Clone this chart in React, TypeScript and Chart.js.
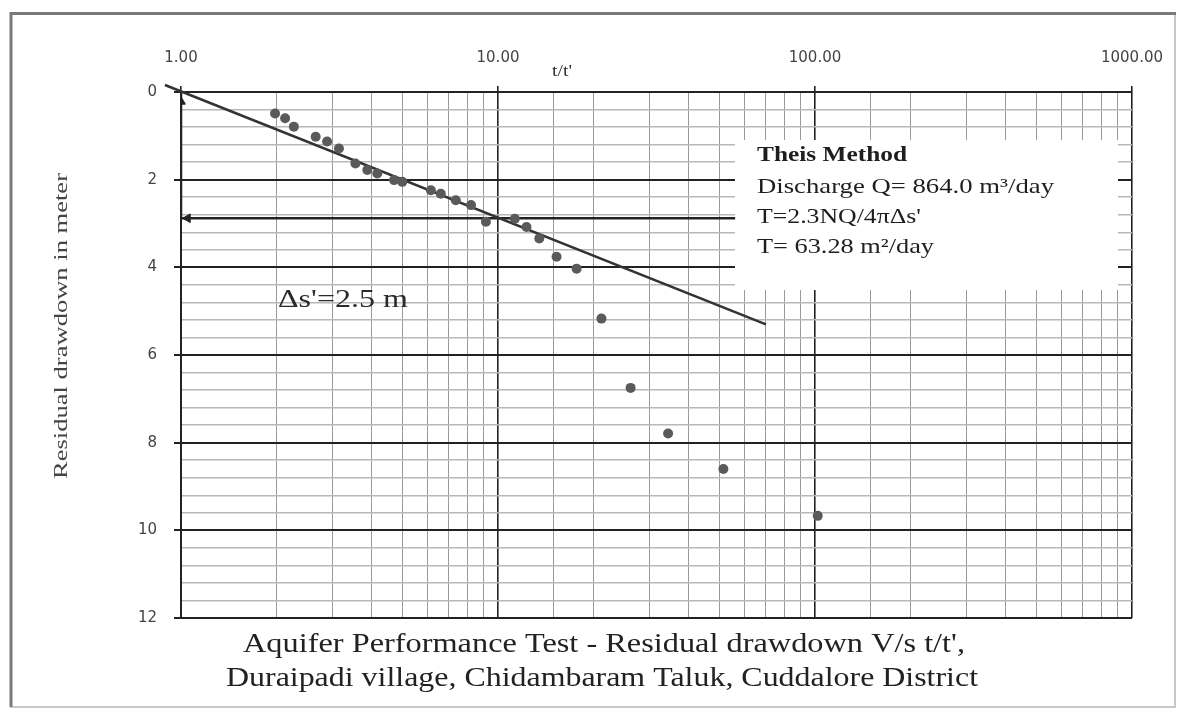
import React, { useEffect, useRef } from "react";
import { Chart, registerables } from "chart.js";

Chart.register(...registerables);

// ---- Data ----
const tRatio = [1.98, 2.13, 2.27, 2.66, 2.89, 3.15, 3.55, 3.87, 4.16, 4.7, 4.99, 6.14, 6.6, 7.36, 8.22, 9.16, 11.3, 12.3, 13.5, 15.3, 17.7, 21.2, 26.2, 34.4, 51.4, 102];
const residualDrawdown = [0.49, 0.6, 0.79, 1.02, 1.13, 1.29, 1.63, 1.78, 1.86, 2.01, 2.05, 2.24, 2.32, 2.47, 2.58, 2.96, 2.89, 3.08, 3.34, 3.76, 4.03, 5.17, 6.75, 7.79, 8.6, 9.67];

const fitLineT = [0.89, 70];
const fitLineS = [-0.16, 5.3];

const deltaLineT = [1.0, 1.0, 56];
const deltaLineS = [0.0, 2.88, 2.88];

const arrowHeadT = [1.0, 1.05];
const arrowHeadS = [0.22, 2.88];
const arrowHeadRotation = [0, 270];

const xTickValues = [1, 10, 100, 1000];
const yMin = 0;
const yMax = 12;
const yStep = 0.4;
const yLabelStep = 2;

const xAxisTitle = "t/t'";
const yAxisTitle = "Residual drawdown in meter";
const deltaLabel = "Δs'=2.5 m";
const boxLines = ["Theis Method", "Discharge Q= 864.0 m³/day", "T=2.3NQ/4πΔs'", "T= 63.28 m²/day"];
const titleLines = ["Aquifer Performance Test - Residual drawdown V/s t/t',", "Duraipadi village, Chidambaram Taluk, Cuddalore District"];

function fitText(ctx: CanvasRenderingContext2D, text: string, x: number, y: number, w: number, font: string, color: string, rot = 0, align: CanvasTextAlign = "center") {
  ctx.save();
  ctx.font = font;
  ctx.fillStyle = color;
  ctx.textBaseline = "middle";
  ctx.textAlign = align;
  const m = ctx.measureText(text).width;
  const sx = m > 0 ? w / m : 1;
  ctx.translate(x, y);
  ctx.rotate(rot);
  ctx.scale(sx, 1);
  ctx.fillText(text, 0, 0);
  ctx.restore();
}

const isMajorX = (v: number) => {
  const l = Math.log10(v);
  return Math.abs(l - Math.round(l)) < 1e-9;
};
const isMajorY = (v: number) => Math.abs(v / yLabelStep - Math.round(v / yLabelStep)) < 1e-6;

const decorPlugin = {
  id: "decor",
  beforeDatasetsDraw(chart: any) {
    const ctx = chart.ctx as CanvasRenderingContext2D;
    const a = chart.chartArea;
    ctx.save();
    ctx.fillStyle = "#ffffff";
    ctx.fillRect(a.left + 554, a.top + 48, 383, 150);
    ctx.restore();
  },
  afterDraw(chart: any) {
    const ctx = chart.ctx as CanvasRenderingContext2D;
    const a = chart.chartArea;
    const serif = "'Liberation Serif', 'Times New Roman', serif";
    // outer frame
    ctx.save();
    ctx.strokeStyle = "#c8c8c8";
    ctx.lineWidth = 2;
    ctx.beginPath();
    ctx.moveTo(1175, 13);
    ctx.lineTo(1175, 707);
    ctx.lineTo(10, 707);
    ctx.stroke();
    ctx.strokeStyle = "#7a7a7a";
    ctx.lineWidth = 3;
    ctx.beginPath();
    ctx.moveTo(11, 707);
    ctx.lineTo(11, 13.5);
    ctx.lineTo(1176, 13.5);
    ctx.stroke();
    ctx.restore();

    // axis titles
    fitText(ctx, xAxisTitle, a.left + 381, a.top - 20, 20, `17px ${serif}`, "#333");
    fitText(ctx, yAxisTitle, 62, 326, 306, `19px ${serif}`, "#444", -Math.PI / 2);

    // delta label
    fitText(ctx, deltaLabel, a.left + 162, a.top + 208, 130, `26px ${serif}`, "#2a2a2a");

    // text box lines
    const bx = a.left + 576;
    const widths = [150, 297, 164, 177];
    const ys = [156, 187, 217, 247];
    boxLines.forEach((t, i) => {
      fitText(ctx, t, bx, ys[i], widths[i], `${i === 0 ? "bold " : ""}21px ${serif}`, "#1e1e1e", 0, "left");
    });

    // bottom title
    fitText(ctx, titleLines[0], 604, 645, 722, `27px ${serif}`, "#222");
    fitText(ctx, titleLines[1], 602, 679, 752, `27px ${serif}`, "#222");
  },
};

export default function App() {
  const ref = useRef<HTMLCanvasElement | null>(null);

  useEffect(() => {
    if (!ref.current) return;
    const chart = new Chart(ref.current, {
      type: "scatter",
      data: {
        datasets: [
          {
            label: "Residual drawdown",
            data: tRatio.map((t, i) => ({ x: t, y: residualDrawdown[i] })),
            backgroundColor: "#5a5a5a",
            borderColor: "#5a5a5a",
            pointRadius: 5,
            borderWidth: 0,
            order: 1,
          },
          {
            label: "Straight-line fit",
            data: fitLineT.map((t, i) => ({ x: t, y: fitLineS[i] })),
            showLine: true,
            borderColor: "#333333",
            borderWidth: 2.5,
            pointRadius: 0,
            clip: false as any,
            order: 2,
          },
          {
            label: "Δs'",
            data: deltaLineT.map((t, i) => ({ x: t, y: deltaLineS[i] })),
            showLine: true,
            borderColor: "#222222",
            borderWidth: 2.5,
            pointRadius: 0,
            order: 3,
          },
          {
            label: "Arrow heads",
            data: arrowHeadT.map((t, i) => ({ x: t, y: arrowHeadS[i] })),
            pointStyle: "triangle",
            rotation: arrowHeadRotation as any,
            pointRadius: 5,
            backgroundColor: "#222222",
            borderColor: "#222222",
            borderWidth: 1,
            order: 0,
          },
        ],
      },
      options: {
        animation: false,
        responsive: false,
        events: [],
        layout: { padding: { left: 0, top: 0, right: 54, bottom: 102 } },
        plugins: {
          legend: { display: false },
          tooltip: { enabled: false },
          title: { display: false },
        },
        scales: {
          x: {
            type: "logarithmic",
            position: "top",
            min: 1,
            max: 1000,
            afterFit: (s: any) => {
              s.height = 92;
            },
            afterBuildTicks: (s: any) => {
              s.ticks = s.ticks.filter((t: any) => t.value >= 1 && t.value <= 1000);
            },
            border: { display: true, color: "#222", width: 2 },
            grid: {
              drawTicks: true,
              tickLength: 6,
              color: (c: any) => (isMajorX(c.tick.value) ? "#222" : "#9a9a9a"),
              lineWidth: (c: any) => (isMajorX(c.tick.value) ? 1.6 : 1),
              tickColor: (c: any) => (isMajorX(c.tick.value) ? "#222" : "rgba(0,0,0,0)"),
            },
            ticks: {
              autoSkip: false,
              maxRotation: 0,
              padding: 19,
              color: "#444",
              font: { family: "'DejaVu Sans', sans-serif", size: 15 },
              callback: (v: any) => (isMajorX(Number(v)) && xTickValues.includes(Math.round(Number(v))) ? Number(v).toFixed(2) : ""),
            },
          },
          y: {
            type: "linear",
            reverse: true,
            min: yMin,
            max: yMax,
            afterFit: (s: any) => {
              s.width = 181;
            },
            border: { display: true, color: "#222", width: 2 },
            grid: {
              drawTicks: true,
              tickLength: 7,
              color: (c: any) => (isMajorY(c.tick.value) ? "#222" : "#b8b8b8"),
              lineWidth: (c: any) => (isMajorY(c.tick.value) ? 2 : 1.5),
              tickColor: (c: any) => (isMajorY(c.tick.value) ? "#222" : "rgba(0,0,0,0)"),
            },
            ticks: {
              stepSize: yStep,
              autoSkip: false,
              padding: 17,
              color: "#444",
              font: { family: "'DejaVu Sans', sans-serif", size: 15 },
              callback: (v: any) => (isMajorY(Number(v)) ? String(Math.round(Number(v))) : ""),
            },
          },
        },
      },
      plugins: [decorPlugin],
    });
    return () => chart.destroy();
  }, []);

  return (
    <div style={{ position: "fixed", left: 0, top: 0, width: 1186, height: 720, background: "#fff" }}>
      <canvas ref={ref} width={1186} height={720} style={{ width: 1186, height: 720, display: "block" }} />
    </div>
  );
}
